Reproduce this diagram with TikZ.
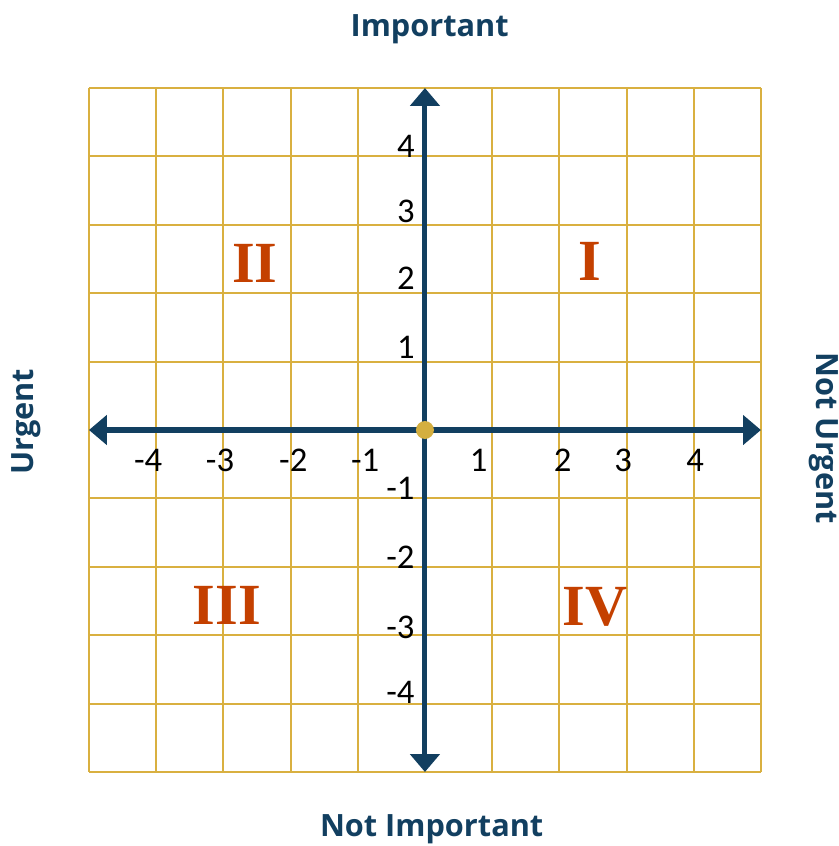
\documentclass[tikz,border=0pt]{standalone}
\usepackage{fontspec}
\setmainfont{Carlito}
\newfontfamily\headfont{Open Sans}
\newfontfamily\romanfont{Liberation Serif}
\usetikzlibrary{arrows.meta}
\definecolor{axisblue}{HTML}{123F60}
\definecolor{gridgold}{HTML}{D9B040}
\definecolor{dotgold}{HTML}{D4AF40}
\definecolor{quadred}{HTML}{C44000}

\begin{document}
\begin{tikzpicture}[x=1.5cm,y=1.5268cm,
  gridline/.style={gridgold, line width=1.3pt},
  axisline/.style={axisblue, line width=3.2pt, -{Triangle[length=0.40cm,width=0.65cm]}},
  ticklabel/.style={inner sep=0pt, font=\fontsize{22}{24}\selectfont},
  quadlabel/.style={quadred, inner sep=0pt, font=\romanfont\bfseries\fontsize{37}{40}\selectfont},
  headlabel/.style={axisblue, inner sep=0pt, font=\headfont\bfseries\fontsize{19.5}{22}\selectfont}]
  \useasboundingbox (-6.324,-6.082) rectangle (6.161,6.287);
  \draw[gridline, step=1] (-5,-5) grid (5,5);
  \coordinate (o) at (0,0);
  \coordinate (xl) at (-5,0);
  \coordinate (xr) at (5,0);
  \coordinate (yb) at (0,-5);
  \coordinate (yt) at (0,5);
  \draw[axisline] (o) -- (xl);
  \draw[axisline] (o) -- (xr);
  \draw[axisline] (o) -- (yb);
  \draw[axisline] (o) -- (yt);
  \node[circle,fill=dotgold,inner sep=0pt,minimum size=0.40cm] (dot) at (o) {};
  % ticks on the horizontal axis
  \node[ticklabel] (xm4) at (-4.12,-0.44) {-4};
  \node[ticklabel] (xm3) at (-3.05,-0.44) {-3};
  \node[ticklabel] (xm2) at (-1.96,-0.44) {-2};
  \node[ticklabel] (xm1) at (-0.89,-0.44) {-1};
  \node[ticklabel] (xp1) at (0.80,-0.44) {1};
  \node[ticklabel] (xp2) at (2.05,-0.44) {2};
  \node[ticklabel] (xp3) at (2.95,-0.44) {3};
  \node[ticklabel] (xp4) at (4.02,-0.44) {4};
  % ticks on the vertical axis
  \node[ticklabel,anchor=east] (yp4) at (-0.15,4.14) {4};
  \node[ticklabel,anchor=east] (yp3) at (-0.15,3.19) {3};
  \node[ticklabel,anchor=east] (yp2) at (-0.15,2.22) {2};
  \node[ticklabel,anchor=east] (yp1) at (-0.15,1.21) {1};
  \node[ticklabel,anchor=east] (ym1) at (-0.15,-0.86) {-1};
  \node[ticklabel,anchor=east] (ym2) at (-0.15,-1.86) {-2};
  \node[ticklabel,anchor=east] (ym3) at (-0.15,-2.88) {-3};
  \node[ticklabel,anchor=east] (ym4) at (-0.15,-3.83) {-4};
  % quadrants
  \node[quadlabel] (q1) at (2.46,2.46) {I};
  \node[quadlabel] (q2) at (-2.53,2.44) {II};
  \node[quadlabel] (q3) at (-2.95,-2.56) {III};
  \node[quadlabel] (q4) at (2.53,-2.59) {IV};
  % axis names
  \node[headlabel] (imp) at (0.07,5.86) {Important};
  \node[headlabel] (notimp) at (0.10,-5.83) {Not Important};
  \node[headlabel,rotate=90] (urg) at (-5.94,0.12) {Urgent};
  \node[headlabel,rotate=-90] (noturg) at (5.93,-0.12) {Not Urgent};
\end{tikzpicture}
\end{document}
